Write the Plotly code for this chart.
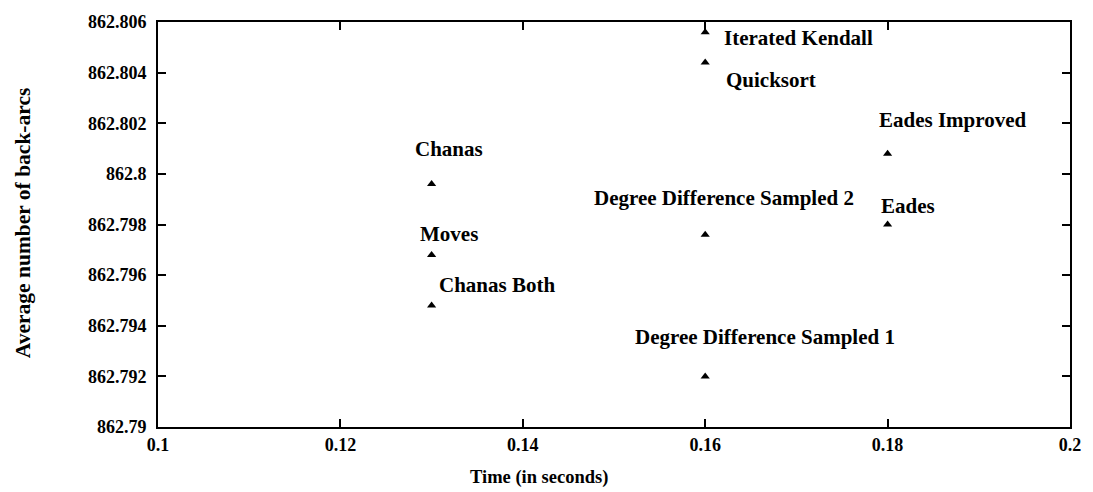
import plotly.graph_objects as go

# Heuristics: run time vs. average number of back-arcs
methods = ["Chanas", "Moves", "Chanas Both", "Iterated Kendall", "Quicksort",
           "Degree Difference Sampled 2", "Degree Difference Sampled 1",
           "Eades Improved", "Eades"]
times = [0.13, 0.13, 0.13, 0.16, 0.16, 0.16, 0.16, 0.18, 0.18]
back_arcs = [862.7996, 862.7968, 862.7948, 862.8056, 862.8044,
             862.7976, 862.7920, 862.8008, 862.7980]

x_ticks = [0.1, 0.12, 0.14, 0.16, 0.18, 0.2]
x_tick_text = ["0.1", "0.12", "0.14", "0.16", "0.18", "0.2"]
y_ticks = [862.79, 862.792, 862.794, 862.796, 862.798, 862.8,
           862.802, 862.804, 862.806]
y_tick_text = ["862.79", "862.792", "862.794", "862.796", "862.798",
               "862.8", "862.802", "862.804", "862.806"]

# label placement per method: (anchor, dx px, dy px)
label_style = {
    "Chanas": ("center", 17, 35),
    "Moves": ("center", 17, 21),
    "Chanas Both": ("left", 5, 21),
    "Iterated Kendall": ("left", 17, -6),
    "Quicksort": ("left", 19, -17),
    "Degree Difference Sampled 2": ("center", 19, 37),
    "Degree Difference Sampled 1": ("center", 60, 39),
    "Eades Improved": ("left", -11, 34),
    "Eades": ("left", -9, 19),
}

FONT = "Liberation Serif"
W, H = 1093, 492
M_L, M_R, M_T, M_B = 158, 15, 20, 65
tick_font = dict(family=FONT, size=18, color="black", weight="bold")
xtitle_font = dict(family=FONT, size=18.5, color="black", weight="bold")
ytitle_font = dict(family=FONT, size=21.5, color="black", weight="bold")

fig = go.Figure()
fig.add_trace(go.Scatter(
    x=times, y=back_arcs, mode="markers",
    marker=dict(symbol="triangle-up", size=8, color="black"),
    showlegend=False, hoverinfo="skip",
))

for name, t, v in zip(methods, times, back_arcs):
    anchor, dx, dy = label_style[name]
    fig.add_annotation(
        x=t, y=v, xref="x", yref="y", text=name, showarrow=False,
        xanchor=anchor, yanchor="middle", xshift=dx, yshift=dy,
        font=dict(family=FONT, size=21, color="black", weight="bold"),
    )

# axis titles placed in paper units converted from pixel positions
pw, ph = W - M_L - M_R, H - M_T - M_B
fig.add_annotation(
    x=(542 - M_L) / pw, y=-(478 - (H - M_B)) / ph,
    xref="paper", yref="paper", text="Time (in seconds)", showarrow=False,
    xanchor="center", yanchor="middle", font=xtitle_font,
)
fig.add_annotation(
    x=-(M_L - 22) / pw, y=((H - M_B) - 222) / ph,
    xref="paper", yref="paper", text="Average number of back-arcs",
    showarrow=False, textangle=-90, xanchor="center", yanchor="middle",
    font=ytitle_font,
)

axis_common = dict(
    showgrid=False, zeroline=False, showline=True, linecolor="black",
    linewidth=2, mirror="ticks", ticks="inside", ticklen=8, tickwidth=1.5,
    tickcolor="black", tickfont=tick_font,
)

fig.update_layout(
    width=W, height=H,
    margin=dict(l=M_L, r=M_R, t=M_T, b=M_B),
    paper_bgcolor="white", plot_bgcolor="white",
    font=dict(family=FONT, color="black"),
    xaxis=dict(range=[0.1, 0.2], tickvals=x_ticks, ticktext=x_tick_text,
               **axis_common),
    yaxis=dict(range=[862.79, 862.806], tickvals=y_ticks, ticktext=y_tick_text,
               ticklabelstandoff=6, **axis_common),
)

fig.write_html("out.html")
